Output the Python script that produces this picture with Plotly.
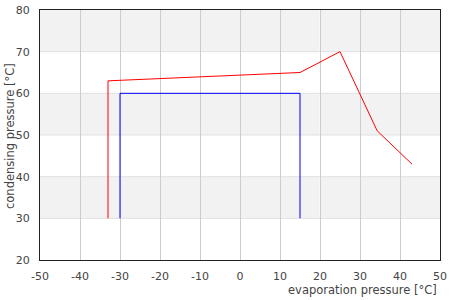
import plotly.graph_objects as go

# data
red_x = [-33, -33, 15, 25, 34.3, 43]
red_y = [30, 63, 65, 70, 51, 43]
blue_x = [-30, -30, 15, 15]
blue_y = [30, 60, 60, 30]
x_ticks = [-50, -40, -30, -20, -10, 0, 10, 20, 30, 40, 50]
y_ticks = [20, 30, 40, 50, 60, 70, 80]
bands = [(30, 40), (50, 60), (70, 80)]

FONT = "DejaVu Sans"
fig = go.Figure()
fig.add_trace(go.Scatter(x=red_x, y=red_y, mode="lines",
                         line=dict(color="red", width=1), hoverinfo="skip"))
fig.add_trace(go.Scatter(x=blue_x, y=blue_y, mode="lines",
                         line=dict(color="blue", width=1), hoverinfo="skip"))

shapes = []
for y0, y1 in bands:
    shapes.append(dict(type="rect", xref="paper", x0=0, x1=1, yref="y", y0=y0, y1=y1,
                       fillcolor="#f2f2f2", line=dict(width=0), layer="below"))
shapes.append(dict(type="line", xref="x", x0=20, x1=20, yref="paper", y0=0, y1=1,
                   line=dict(color="white", width=1), layer="between"))
for yv in y_ticks[1:-1]:
    shapes.append(dict(type="line", xref="paper", x0=0, x1=1, yref="y", y0=yv, y1=yv,
                       line=dict(color="#e0e0e0", width=1), layer="between"))

fig.update_layout(
    width=450, height=300,
    margin=dict(l=40, r=10, t=10, b=40),
    paper_bgcolor="white", plot_bgcolor="white",
    showlegend=False,
    font=dict(family=FONT, size=11, color="#444"),
    shapes=shapes,
    xaxis=dict(range=[-50, 50], tickvals=x_ticks, ticktext=[str(v) for v in x_ticks],
               showgrid=True, gridcolor="#cccccc", automargin=False,
               gridwidth=1, zeroline=False, showline=True, linecolor="#222",
               linewidth=1, mirror=True, ticks="outside", ticklen=6,
               tickcolor="rgba(0,0,0,0)", tickfont=dict(size=11, color="#444")),
    yaxis=dict(range=[20, 80], tickvals=y_ticks, ticktext=[str(v) for v in y_ticks],
               showgrid=False, zeroline=False, automargin=False,
               showline=True, linecolor="#222", linewidth=1, mirror=True,
               ticks="outside", ticklen=7, tickcolor="rgba(0,0,0,0)",
               tickfont=dict(size=11, color="#444")),
    annotations=[
        dict(text="evaporation pressure [°C]", xref="paper", yref="paper", x=1, y=0,
             xanchor="right", yanchor="middle", yshift=-30, xshift=-1, showarrow=False,
             font=dict(size=11.5, color="#444")),
        dict(text="condensing pressure [°C]", xref="paper", yref="paper", x=0, y=0.5,
             xanchor="center", yanchor="middle", xshift=-30, yshift=-1, textangle=-90,
             showarrow=False, font=dict(size=11.5, color="#444")),
    ],
)
fig.write_html("out.html")
